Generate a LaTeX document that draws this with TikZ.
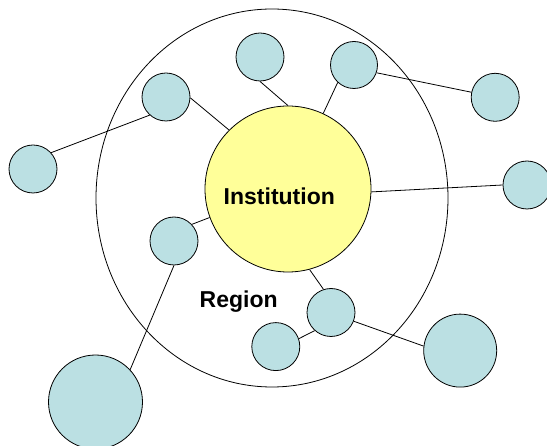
\documentclass[tikz,border=0pt]{standalone}
\usepackage{fontspec}
\setmainfont{Liberation Sans}
\usetikzlibrary{shapes.geometric}
\definecolor{nodeblue}{HTML}{BBE0E3}
\definecolor{instyellow}{HTML}{FFFF99}
\begin{document}
\begin{tikzpicture}[x=1pt,y=-1pt,
  line width=0.8pt,
  small/.style={circle,draw=black,fill=nodeblue,inner sep=0pt,minimum size=#1},
  small/.default=48pt,
  lbl/.style={font=\fontsize{23}{27}\selectfont\bfseries,inner sep=0pt,anchor=base}]
\useasboundingbox (0,0) rectangle (547,446);
\node[ellipse,draw=black,inner sep=0pt,minimum width=352pt,minimum height=378pt] (region) at (272,198) {};
\node[circle,draw=black,fill=instyellow,inner sep=0pt,minimum size=166pt] (inst) at (288,189) {};
\node[lbl] (insttext) at (279.3,205) {Institution};
\node[lbl] (regtext) at (238.7,308) {Region};
% small circles
\node[small] (c1) at (166,97) {};
\node[small] (c2) at (260,57) {};
\node[small=47pt] (c3) at (354,65) {};
\node[small] (c4) at (495.2,97.3) {};
\node[small] (c5) at (527,185) {};
\node[small] (c6) at (33,169) {};
\node[small] (c7) at (174,241) {};
\node[small] (c8) at (331,312.5) {};
\node[small] (c9) at (275.8,346.6) {};
\node[small=73pt] (c10) at (460.2,350.6) {};
\node[small=94pt] (c11) at (95.5,402) {};
% connectors
\draw (c6.42.6) -- (c1.228);
\draw (c1.-2) -- (inst.135);
\draw (c2.south) -- (inst.north);
\draw (c3.227) -- (inst.65);
\draw (c3.-19) -- (c4.168);
\draw (inst.-2.6) -- (c5.west);
\draw (c7.43) -- (inst.200.8);
\draw (c7.south) -- (c11.43.8);
\draw (inst.-75.6) -- (c8.108);
\draw (c8.228) -- (c9.19);
\draw (c8.-21) -- (c10.173);
\end{tikzpicture}
\end{document}
